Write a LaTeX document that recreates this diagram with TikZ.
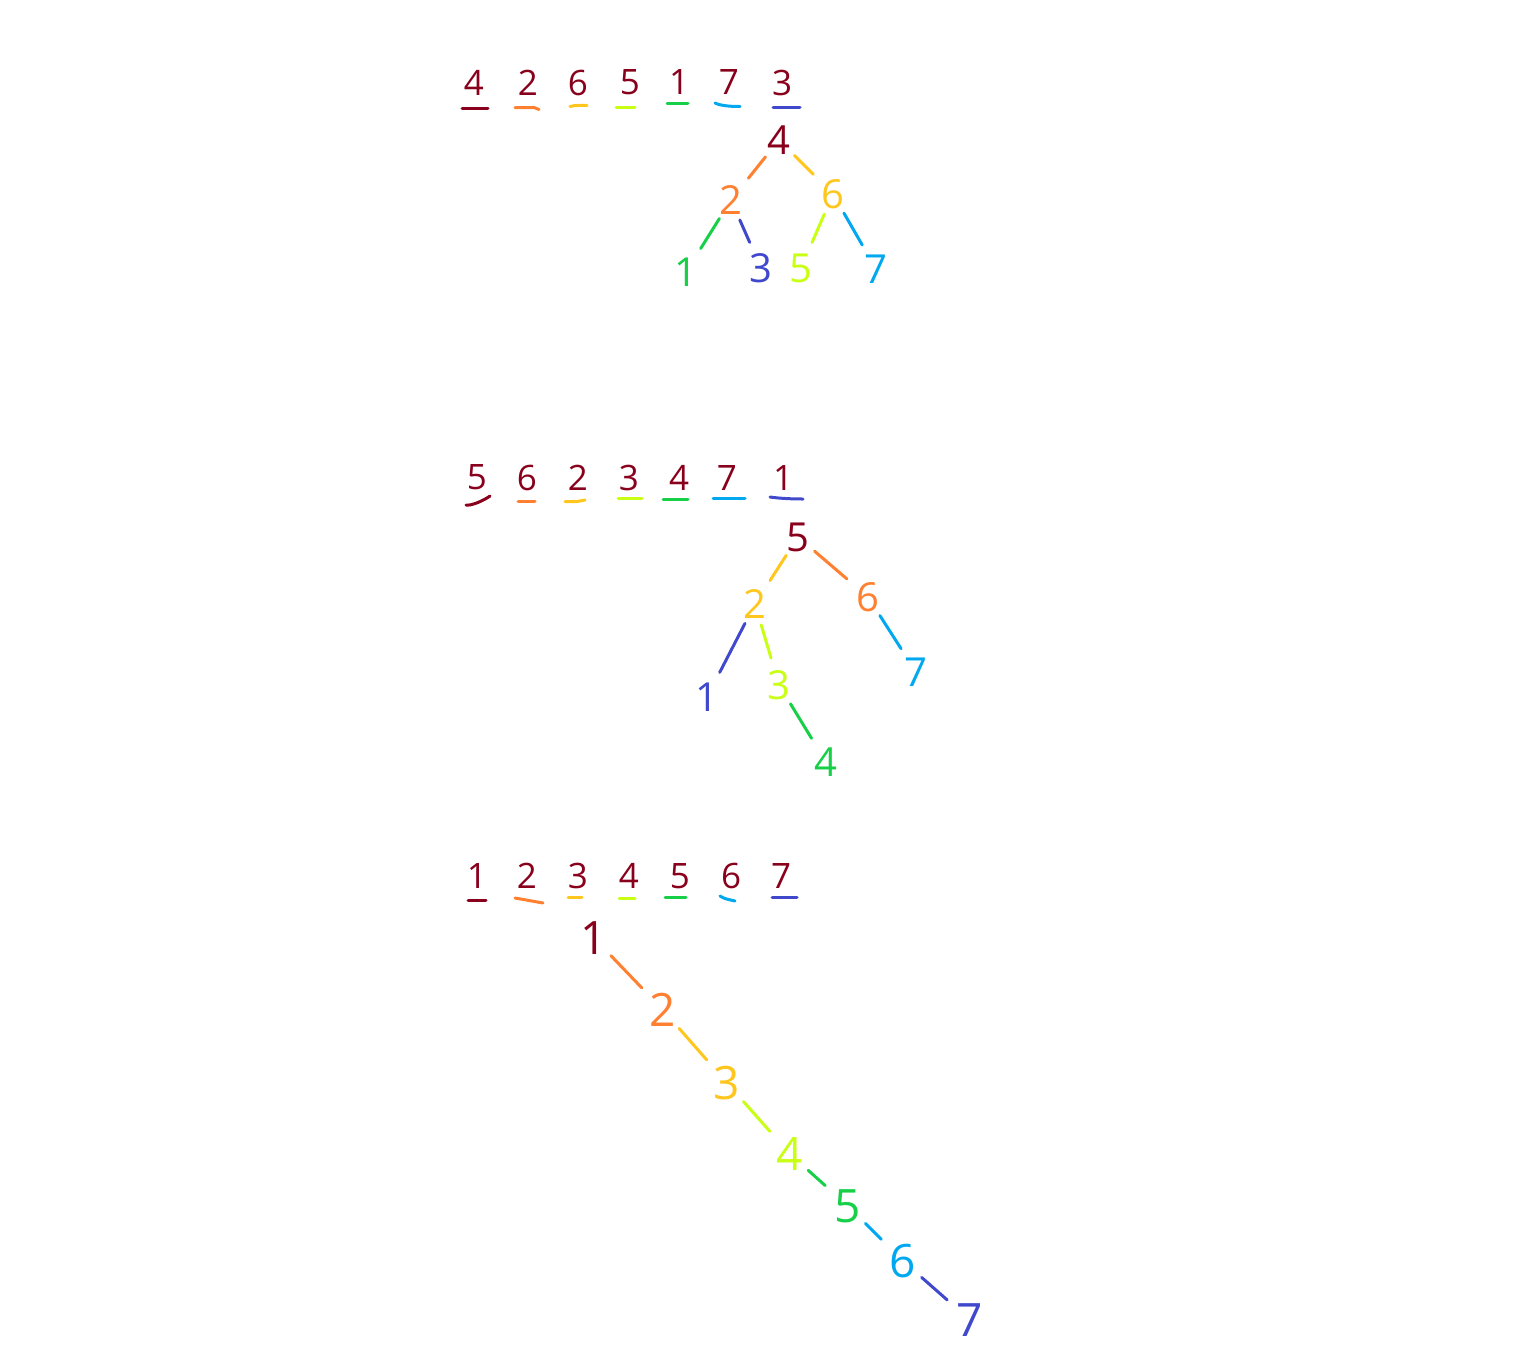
\documentclass[tikz,border=0pt]{standalone}
\usepackage{fontspec}
\setmainfont{Open Sans}
\definecolor{dred}{RGB}{136,0,27}
\definecolor{cor}{RGB}{255,128,48}
\definecolor{cye}{RGB}{255,198,30}
\definecolor{cch}{RGB}{200,255,20}
\definecolor{cgr}{RGB}{24,208,72}
\definecolor{cbl}{RGB}{0,168,240}
\definecolor{cin}{RGB}{64,72,204}

\begin{document}
\begin{tikzpicture}[x=0.5pt,y=-0.5pt]
\tikzstyle{num}=[inner sep=0pt,text=dred,font=\fontsize{17.5}{20}\selectfont]
\tikzstyle{key}=[circle,inner sep=0pt,minimum size=17pt,font=\fontsize{20}{24}\selectfont]
\tikzstyle{bigkey}=[key,font=\fontsize{23}{27}\selectfont]
\tikzstyle{ul}=[line width=1.5pt,line cap=round]
\tikzstyle{edge}=[line width=1.5pt,line cap=round,shorten <=1.5pt,shorten >=4.5pt]
\useasboundingbox (0,0) rectangle (1517,1350);

% first order: 4 2 6 5 1 7 3
\node[num] (a4) at (474,82.5) {4};
\node[num] (a2) at (528,82.5) {2};
\node[num] (a6) at (578,82.5) {6};
\node[num] (a5) at (630,82.5) {5};
\node[num] (a1) at (679,82.5) {1};
\node[num] (a7) at (729,82.5) {7};
\node[num] (a3) at (782,82.5) {3};
\draw[ul,dred] (a4) ++(-12,25.5) -- ++(26,0);
\draw[ul,cor] (a2) ++(-13,25) -- ++(14,0) .. controls +(5,0) and +(-3,-2) .. ++(10,2);
\draw[ul,cye] (a6) ++(-8,24) .. controls +(4,-1.5) and +(-4,0) .. ++(17,-1);
\draw[ul,cch] (a5) ++(-14,24.5) -- ++(19,0);
\draw[ul,cgr] (a1) ++(-12,20.5) -- ++(21,0);
\draw[ul,cbl] (a7) ++(-14,20.5) .. controls +(6,3) and +(-8,0) .. ++(25,3.5);
\draw[ul,cin] (a3) ++(-9,24.5) -- ++(27,0);

\node[key,dred] (ta4) at (779,140) {4};
\node[key,cor] (ta2) at (731,200) {2};
\node[key,cye] (ta6) at (833,194) {6};
\node[key,cgr] (ta1) at (686,272) {1};
\node[key,cin] (ta3) at (761,268) {3};
\node[key,cch] (ta5) at (801,268) {5};
\node[key,cbl] (ta7) at (876,269) {7};
\draw[edge,cor] (ta4) -- (ta2);
\draw[edge,cye] (ta4) -- (ta6);
\draw[edge,cgr] (ta2) -- (ta1);
\draw[edge,cin] (ta2) -- (ta3);
\draw[edge,cch] (ta6) -- (ta5);
\draw[edge,cbl] (ta6) -- (ta7);

% second order: 5 6 2 3 4 7 1
\node[num] (b5) at (477,477.5) {5};
\node[num] (b6) at (527,477.5) {6};
\node[num] (b2) at (578,477.5) {2};
\node[num] (b3) at (629,477.5) {3};
\node[num] (b4) at (679,477.5) {4};
\node[num] (b7) at (727,477.5) {7};
\node[num] (b1) at (783,477.5) {1};
\draw[ul,dred] (b5) ++(-11,27.5) .. controls +(5,1) and +(-7,5) .. ++(24,-9);
\draw[ul,cor] (b6) ++(-9,23.5) -- ++(17,0);
\draw[ul,cye] (b2) ++(-13,24) -- ++(12,0) -- ++(8,-1.5);
\draw[ul,cch] (b3) ++(-11,20.5) -- ++(24,0);
\draw[ul,cgr] (b4) ++(-16,21.5) -- ++(25,0);
\draw[ul,cbl] (b7) ++(-14,20.5) -- ++(32,0);
\draw[ul,cin] (b1) ++(-13,19.5) .. controls +(10,1.5) and +(-10,0) .. ++(33,2);

\node[key,dred] (tb5) at (798,537) {5};
\node[key,cye] (tb2) at (755,604) {2};
\node[key,cor] (tb6) at (868,597) {6};
\node[key,cin] (tb1) at (707,697) {1};
\node[key,cch] (tb3) at (779,685) {3};
\node[key,cbl] (tb7) at (916,672) {7};
\node[key,cgr] (tb4) at (826,762) {4};
\draw[edge,cye] (tb5) -- (tb2);
\draw[edge,cor] (tb5) -- (tb6);
\draw[edge,cin] (tb2) -- (tb1);
\draw[edge,cch] (tb2) -- (tb3);
\draw[edge,cgr] (tb3) -- (tb4);
\draw[edge,cbl] (tb6) -- (tb7);

% third order: 1 2 3 4 5 6 7
\node[num] (c1) at (477,876) {1};
\node[num] (c2) at (527,876) {2};
\node[num] (c3) at (578,876) {3};
\node[num] (c4) at (629,876) {4};
\node[num] (c5) at (680,876) {5};
\node[num] (c6) at (731,876) {6};
\node[num] (c7) at (781,876) {7};
\draw[ul,dred] (c1) ++(-9,24) -- ++(18,0);
\draw[ul,cor] (c2) ++(-12,22) -- ++(28,5);
\draw[ul,cye] (c3) ++(-10,21) -- ++(14,0);
\draw[ul,cch] (c4) ++(-10,22) -- ++(16,0);
\draw[ul,cgr] (c5) ++(-15,21) -- ++(21,0);
\draw[ul,cbl] (c6) ++(-11,20) .. controls +(4,3) and +(-4,-1) .. ++(15,5);
\draw[ul,cin] (c7) ++(-9,21) -- ++(25,0);

\node[bigkey,dred] (tc1) at (594,938) {1};
\node[bigkey,cor] (tc2) at (663,1010) {2};
\node[bigkey,cye] (tc3) at (727,1083) {3};
\node[bigkey,cch] (tc4) at (790,1154) {4};
\node[bigkey,cgr] (tc5) at (848,1206) {5};
\node[bigkey,cbl] (tc6) at (903,1261) {6};
\node[bigkey,cin] (tc7) at (970,1320) {7};
\draw[edge,cor] (tc1) -- (tc2);
\draw[edge,cye] (tc2) -- (tc3);
\draw[edge,cch] (tc3) -- (tc4);
\draw[edge,cgr] (tc4) -- (tc5);
\draw[edge,cbl] (tc5) -- (tc6);
\draw[edge,cin] (tc6) -- (tc7);
\end{tikzpicture}
\end{document}
